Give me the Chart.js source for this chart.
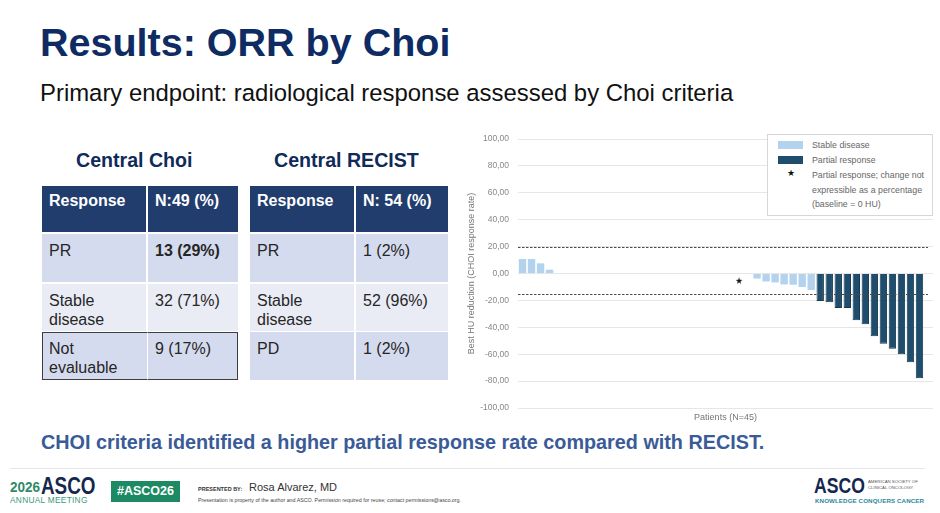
<!DOCTYPE html>
<html><head><meta charset="utf-8">
<script src="https://cdn.jsdelivr.net/npm/chart.js@4.4.1/dist/chart.umd.min.js"></script>
<style>
html,body{margin:0;padding:0;background:#fff;}
body{width:940px;height:513px;position:relative;overflow:hidden;font-family:Arial,"Liberation Sans",sans-serif;}
.a{position:absolute;white-space:nowrap;}
.cell{position:absolute;box-sizing:border-box;padding:7px 0 0 7px;font-size:16px;line-height:19px;color:#262626;white-space:nowrap;}
.hd{background:#213d6e;color:#fff;font-weight:bold;}
.r1{background:#d5dbee;}
.r2{background:#e9ecf5;}
.leg{position:absolute;left:767px;top:134px;width:166px;height:82px;box-sizing:border-box;border:1px solid #d6d6d6;background:#fff;font-size:8.8px;color:#666;}
.leg div{position:absolute;white-space:nowrap;}
</style>
</head><body>
<div class="a" style="left:40px;top:20px;font-size:39.5px;font-weight:bold;color:#0e2b63;">Results: ORR by Choi</div>
<div class="a" style="left:40px;top:79px;font-size:23.9px;color:#111;">Primary endpoint: radiological response assessed by Choi criteria</div>

<div class="a" style="left:76px;top:149px;font-size:19.6px;font-weight:bold;color:#102a5a;">Central Choi</div>
<div class="a" style="left:274px;top:149px;font-size:19.6px;font-weight:bold;color:#102a5a;">Central RECIST</div>

<!-- table 1 -->
<div class="cell hd" style="left:42px;top:186px;width:104px;height:46px;padding-top:5px;">Response</div>
<div class="cell hd" style="left:148px;top:186px;width:90px;height:46px;padding-top:5px;">N:49 (%)</div>
<div class="cell r1" style="left:42px;top:234px;width:104px;height:48px;">PR</div>
<div class="cell r1" style="left:148px;top:234px;width:90px;height:48px;font-weight:bold;">13 (29%)</div>
<div class="cell r2" style="left:42px;top:284px;width:104px;height:47px;">Stable<br>disease</div>
<div class="cell r2" style="left:148px;top:284px;width:90px;height:47px;">32 (71%)</div>
<div class="cell r1" style="left:42px;top:332px;width:105px;height:48px;border:1px solid #3d3d3d;border-right:none;padding-left:6px;padding-top:6px;">Not<br>evaluable</div>
<div class="cell r1" style="left:147px;top:332px;width:91px;height:48px;border:1px solid #3d3d3d;border-left:1px solid #fff;padding-top:6px;">9 (17%)</div>

<!-- table 2 -->
<div class="cell hd" style="left:250px;top:186px;width:104px;height:46px;padding-top:5px;">Response</div>
<div class="cell hd" style="left:356px;top:186px;width:92px;height:46px;padding-top:5px;">N: 54 (%)</div>
<div class="cell r1" style="left:250px;top:234px;width:104px;height:48px;">PR</div>
<div class="cell r1" style="left:356px;top:234px;width:92px;height:48px;">1 (2%)</div>
<div class="cell r2" style="left:250px;top:284px;width:104px;height:47px;">Stable<br>disease</div>
<div class="cell r2" style="left:356px;top:284px;width:92px;height:47px;">52 (96%)</div>
<div class="cell r1" style="left:250px;top:332px;width:104px;height:48px;">PD</div>
<div class="cell r1" style="left:356px;top:332px;width:92px;height:48px;">1 (2%)</div>

<!-- chart -->
<div style="position:absolute;left:460px;top:125px;width:480px;height:298px;"><canvas id="c"></canvas></div>
<div class="leg">
  <div style="left:10px;top:6px;width:25px;height:8px;background:#b3d2ee;"></div>
  <div style="left:44px;top:5px;">Stable disease</div>
  <div style="left:10px;top:21px;width:25px;height:8px;background:#1f4d6d;"></div>
  <div style="left:44px;top:20px;">Partial response</div>
  <div style="left:19px;top:33px;color:#111;font-size:9px;">★</div>
  <div style="left:44px;top:35px;">Partial response; change not</div>
  <div style="left:44px;top:50px;">expressible as a percentage</div>
  <div style="left:44px;top:64px;">(baseline = 0 HU)</div>
</div>

<div class="a" style="left:41px;top:431px;font-size:19.8px;font-weight:bold;color:#3a5b97;">CHOI criteria identified a higher partial response rate compared with RECIST.</div>
<div style="position:absolute;left:10px;top:468px;width:915px;height:1px;background:#e6e6e6;"></div>

<!-- footer -->
<div class="a" style="left:10px;top:478px;font-size:15px;color:#2e8a68;font-weight:bold;transform:scaleX(0.9);transform-origin:left;">2026</div>
<div class="a" style="left:41px;top:473px;font-size:23px;font-weight:bold;color:#14284f;transform:scaleX(0.82);transform-origin:left;">ASCO</div>
<div class="a" style="left:10px;top:495px;font-size:8.3px;color:#3a9a78;letter-spacing:0.3px;">ANNUAL MEETING</div>
<div class="a" style="left:111px;top:481px;width:69px;height:21px;background:#1e8a64;color:#fff;font-weight:bold;font-size:12.5px;line-height:21px;text-align:center;">#ASCO26</div>
<div class="a" style="left:198px;top:486px;font-size:5.5px;color:#333;font-weight:bold;">PRESENTED BY:</div>
<div class="a" style="left:249px;top:481px;font-size:11px;color:#333;">Rosa Alvarez, MD</div>
<div class="a" style="left:198px;top:497px;font-size:5.3px;color:#444;">Presentation is property of the author and ASCO. Permission required for reuse; contact permissions@asco.org.</div>
<div class="a" style="left:814px;top:473px;font-size:22px;font-weight:bold;color:#14284f;transform:scaleX(0.8);transform-origin:left;">ASCO</div>
<div class="a" style="left:868px;top:479px;font-size:4.3px;color:#555;line-height:6px;">AMERICAN SOCIETY OF<br>CLINICAL ONCOLOGY</div>
<div class="a" style="left:815px;top:497px;font-size:6.2px;color:#2a8a9a;font-weight:bold;letter-spacing:0.1px;">KNOWLEDGE CONQUERS CANCER</div>

<script>
// ---- data ----
const patients = ['1','2','3','4','5','6','7','8','9','10','11','12','13','14','15','16','17','18','19','20','21','22','23','24','25','26','27','28','29','30','31','32','33','34','35','36','37','38','39','40','41','42','43','44','45'];
const stableDisease = [10.8,10.8,7.6,2.9,0,0,0,0,0,0,0,0,0,0,0,0,0,0,0,0,0,0,0,0,null,0,-3.7,-5.9,-6.6,-8.1,-8.3,-10.0,-12.2,null,null,null,null,null,null,null,null,null,null,null,null];
const partialResponse = [null,null,null,null,null,null,null,null,null,null,null,null,null,null,null,null,null,null,null,null,null,null,null,null,null,null,null,null,null,null,null,null,null,-20.5,-21.3,-25.7,-25.7,-34.7,-37.7,-46.7,-52.3,-56.0,-60.1,-66.0,-77.8];
const notExpressible = [null,null,null,null,null,null,null,null,null,null,null,null,null,null,null,null,null,null,null,null,null,null,null,null,-6.1,null,null,null,null,null,null,null,null,null,null,null,null,null,null,null,null,null,null,null,null];
const thresholds = [20, -15];
const yTicks = [100,80,60,40,20,0,-20,-40,-60,-80,-100];

// star point image
const star = document.createElement('canvas');
star.width = 10; star.height = 10;
{ const g = star.getContext('2d'); g.fillStyle = '#111'; g.font = '9px "DejaVu Sans"'; g.textAlign='center'; g.textBaseline='middle'; g.fillText('★',5,5); }

const thresholdPlugin = {
  id: 'thresholds',
  afterDatasetsDraw(chart) {
    const {ctx, chartArea, scales} = chart;
    ctx.save();
    ctx.strokeStyle = '#4a4a4a';
    ctx.lineWidth = 1;
    ctx.setLineDash([2.5, 1.5]);
    thresholds.forEach(v => {
      const y = Math.round(scales.y.getPixelForValue(v)) + 0.5;
      ctx.beginPath();
      ctx.moveTo(chartArea.left, y);
      ctx.lineTo(chartArea.right - 5, y);
      ctx.stroke();
    });
    ctx.restore();
  }
};

new Chart(document.getElementById('c'), {
  type: 'bar',
  data: {
    labels: patients,
    datasets: [
      { label: 'Stable disease', data: stableDisease, backgroundColor: '#b3d2ee', grouped: false, barPercentage: 0.82, categoryPercentage: 1, order: 2 },
      { label: 'Partial response', data: partialResponse, backgroundColor: '#1f4d6d', borderColor: '#17394f', borderWidth: 1, grouped: false, barPercentage: 0.82, categoryPercentage: 1, order: 2 },
      { type: 'line', label: 'Partial response; change not expressible as a percentage', data: notExpressible, showLine: false, pointStyle: star, pointRadius: 5, order: 1 }
    ]
  },
  options: {
    responsive: true,
    maintainAspectRatio: false,
    animation: false,
    layout: { padding: { top: 10, right: 7, left: 6, bottom: 0 } },
    plugins: { legend: { display: false }, tooltip: { enabled: false } },
    scales: {
      x: {
        grid: { display: false },
        border: { display: false },
        ticks: { display: false },
        // leave one empty slot of space at the right end, as in the source chart
        afterBuildTicks(s) { s._valueRange = s._valueRange + 1; },
        title: { display: true, text: 'Patients (N=45)', color: '#777', font: { size: 9, family: 'Arial, "Liberation Sans"' }, padding: { top: 0, bottom: 0 } },
        afterFit(s) { s.height = 15; }
      },
      y: {
        min: -100, max: 100,
        afterBuildTicks(s) { s.ticks = yTicks.map(v => ({ value: v })); },
        ticks: {
          color: '#888',
          font: { size: 8.5, family: 'Arial, "Liberation Sans"' },
          padding: 9,
          callback: v => v.toFixed(2).replace('.', ',')
        },
        grid: { color: '#e6e6e6', drawTicks: false },
        border: { display: false },
        title: { display: true, text: 'Best HU reduction (CHOI response rate)', color: '#777', font: { size: 9, family: 'Arial, "Liberation Sans"' }, padding: { top: 0, bottom: 2 } },
        afterFit(s) { s.width = 52; }
      }
    }
  },
  plugins: [thresholdPlugin]
});
</script>
</body></html>
